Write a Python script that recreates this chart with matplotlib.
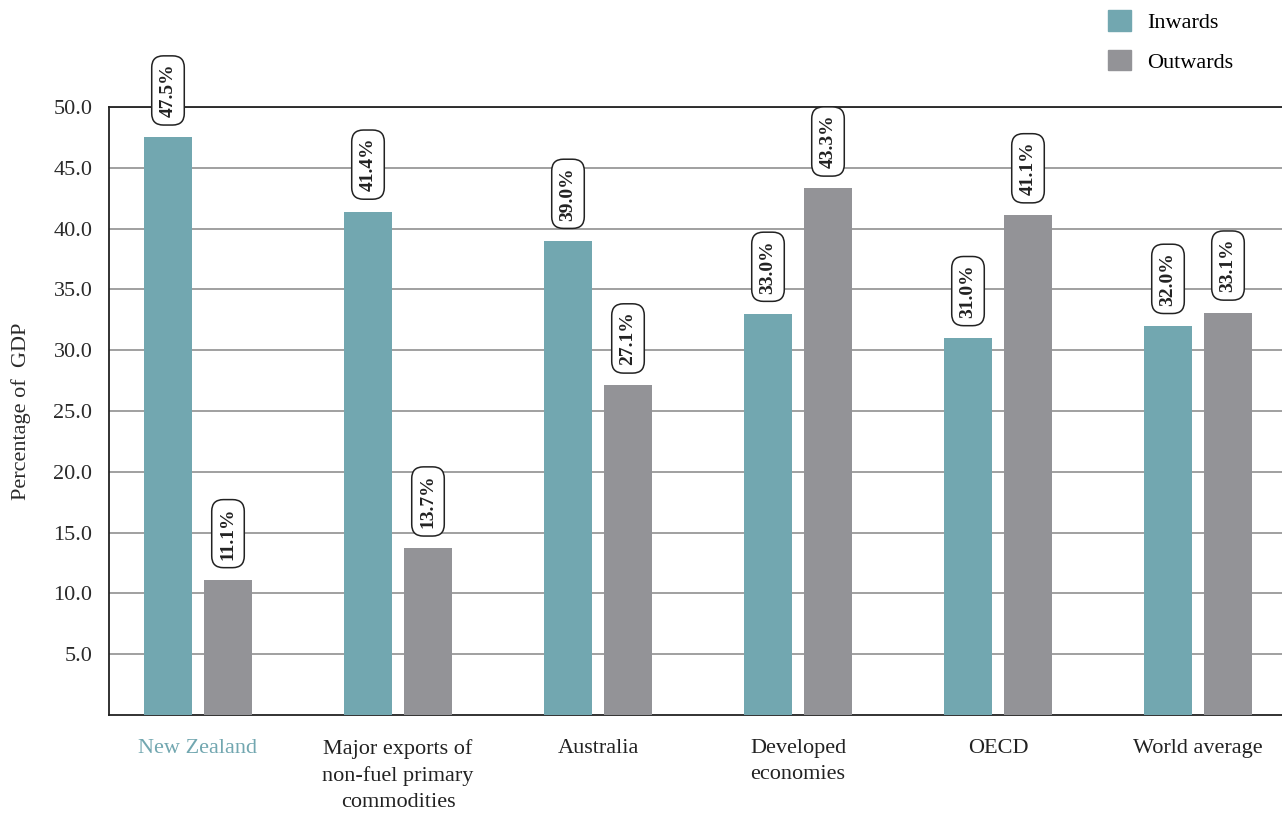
import matplotlib.pyplot as plt
import numpy as np
from matplotlib.patches import Patch

plt.rcParams['font.family'] = ['Liberation Serif', 'DejaVu Serif']

regions = ['New Zealand', 'Major exports of\nnon-fuel primary\ncommodities', 'Australia',
           'Developed\neconomies', 'OECD', 'World average']
inwards = [47.5, 41.4, 39.0, 33.0, 31.0, 32.0]
outwards = [11.1, 13.7, 27.1, 43.3, 41.1, 33.1]
yticks = [5.0, 10.0, 15.0, 20.0, 25.0, 30.0, 35.0, 40.0, 45.0, 50.0]

teal = '#72a7b0'
grey = '#939397'

fig = plt.figure(figsize=(12.82, 8.18), dpi=100)
ax = fig.add_axes([109 / 1282, 1 - 715 / 818, 1173 / 1282, 608 / 818])

x = np.arange(len(regions))
w = 0.24
b1 = ax.bar(x - 0.15, inwards, w, color=teal, zorder=3)
b2 = ax.bar(x + 0.15, outwards, w, color=grey, zorder=3)

for bars, vals in ((b1, inwards), (b2, outwards)):
    for r, v in zip(bars, vals):
        ax.annotate('%.1f%%' % v, (r.get_x() + r.get_width() / 2, v),
                    xytext=(0, 14.5), textcoords='offset points',
                    rotation=90, ha='center', va='bottom',
                    fontsize=14, fontweight='bold', color='#222222',
                    bbox=dict(boxstyle='round,pad=0.4,rounding_size=0.6',
                              fc='white', ec='#222222', lw=1.1),
                    annotation_clip=False, zorder=5)

ax.set_xlim(-0.445, 5.42)
ax.set_ylim(0, 50)
ax.set_yticks(yticks)
ax.set_yticklabels(['%.1f' % t for t in yticks], fontsize=16, color='#2a2a2a')
ax.yaxis.grid(True, color='#a0a0a0', lw=1.4, zorder=0)
ax.tick_params(axis='y', length=0, pad=12)
ax.tick_params(axis='x', length=0, pad=17)
ax.set_xticks(x)
ax.set_xticklabels(regions, fontsize=16, color='#222222', linespacing=1.5)
ax.get_xticklabels()[0].set_color(teal)

for s in ('left', 'bottom', 'top'):
    ax.spines[s].set_color('#222222')
    ax.spines[s].set_linewidth(1.3)
ax.spines['right'].set_visible(False)

ax.set_ylabel('Percentage of  GDP', fontsize=16, color='#2a2a2a', labelpad=16)

handles = [Patch(color=teal, label='Inwards'), Patch(color=grey, label='Outwards')]
fig.legend(handles=handles, loc='upper left', bbox_to_anchor=(1088 / 1282, 1.012),
           frameon=False, fontsize=16, handlelength=1.05, handleheight=1.05,
           labelspacing=0.75, handletextpad=0.7)

fig.savefig('out.png', dpi=100)
